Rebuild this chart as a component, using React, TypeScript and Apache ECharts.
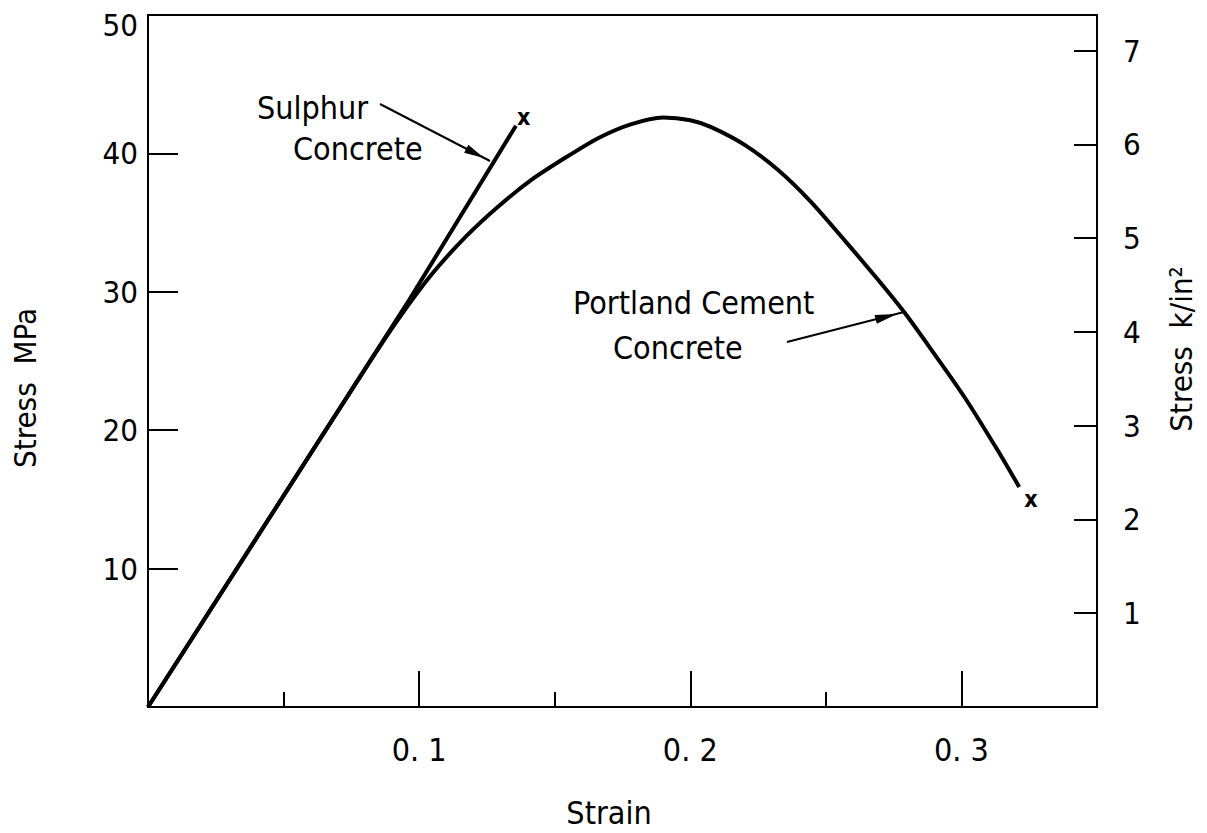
import React, { useEffect, useRef } from "react";
import * as echarts from "echarts";

// ---- Data ----
const strainTicks = [0.1, 0.2, 0.3];
const mpaTicks = [10, 20, 30, 40, 50];
const ksiTicks = [1, 2, 3, 4, 5, 6, 7];

const sulphurStrain = [0, 0.0963, 0.1357];
const sulphurStress = [0, 29.4, 42.0];

const portlandStrain = [
  0, 0.04, 0.08, 0.0926, 0.1048, 0.1173, 0.1294, 0.1415, 0.154,
  0.166, 0.178, 0.19, 0.2, 0.2077, 0.2202, 0.2324, 0.2445, 0.257, 0.2691,
  0.279, 0.2886, 0.3011, 0.3132, 0.3213,
];
const portlandStress = [
  0, 12.2, 24.4, 28.1, 31.3, 34.0, 36.2, 38.1, 39.7, 41.1, 42.1,
  42.6, 42.4, 41.9, 40.6, 38.8, 36.5, 33.7, 30.9, 28.5, 25.9, 22.4, 18.6, 15.9,
];

const FONT = "'DejaVu Sans Condensed', 'DejaVu Sans', sans-serif";

function arrowHead(
  tipX: number,
  tipY: number,
  fromX: number,
  fromY: number,
  len: number,
  half: number
) {
  const dx = tipX - fromX;
  const dy = tipY - fromY;
  const d = Math.sqrt(dx * dx + dy * dy);
  const ux = dx / d;
  const uy = dy / d;
  const bx = tipX - ux * len;
  const by = tipY - uy * len;
  return {
    type: "polygon",
    shape: {
      points: [
        [tipX, tipY],
        [bx - uy * half, by + ux * half],
        [bx + uy * half, by - ux * half],
      ],
    },
    style: { fill: "#000" },
    silent: true,
  };
}

function near(v: number, list: number[]) {
  return list.some((t) => Math.abs(t - v) < 1e-6);
}

export default function App() {
  const ref = useRef<HTMLDivElement>(null);

  useEffect(() => {
    document.body.style.margin = "0";
    if (!ref.current) return;
    const chart = echarts.init(ref.current, undefined, { renderer: "svg" });

    const textStyle = (extra: any) => ({
      fontFamily: FONT,
      fill: "#000",
      ...extra,
    });

    const option: any = {
      animation: false,
      backgroundColor: "#fff",
      grid: {
        left: 148,
        top: 15,
        width: 949,
        height: 692,
        show: true,
        borderColor: "#000",
        borderWidth: 2,
        backgroundColor: "transparent",
      },
      xAxis: {
        type: "value",
        min: 0,
        max: 0.35,
        interval: 0.1,
        axisLine: { show: true, lineStyle: { color: "#000", width: 2 } },
        axisTick: {
          show: true,
          inside: true,
          length: 36,
          lineStyle: { color: "#000", width: 2 },
        },
        minorTick: {
          show: true,
          splitNumber: 2,
          length: 15,
          lineStyle: { color: "#000", width: 2 },
        },
        splitLine: { show: false },
        minorSplitLine: { show: false },
        axisLabel: {
          showMinLabel: false,
          showMaxLabel: false,
          margin: 27,
          fontSize: 32,
          color: "#000",
          fontFamily: FONT,
          formatter: (v: number) =>
            near(v, strainTicks) ? v.toFixed(1).replace(".", ". ") : "",
        },
      },
      yAxis: [
        {
          type: "value",
          position: "left",
          min: 0,
          max: 50,
          interval: 10,
          axisLine: { show: true, lineStyle: { color: "#000", width: 2 } },
          axisTick: {
            show: true,
            inside: true,
            length: 30,
            lineStyle: { color: "#000", width: 2 },
          },
          splitLine: { show: false },
          axisLabel: {
            showMinLabel: false,
            margin: 10,
            fontSize: 31,
            color: "#000",
            fontFamily: FONT,
            formatter: (v: number) =>
              near(v, mpaTicks) ? (v === 50 ? "{top|50}" : String(v)) : "",
            rich: {
              top: {
                fontSize: 31,
                fontFamily: FONT,
                color: "#000",
                padding: [20, 0, 0, 0],
              },
            },
          },
        },
        {
          type: "value",
          position: "right",
          min: 0,
          max: 7.38,
          interval: 1,
          axisLine: { show: true, lineStyle: { color: "#000", width: 2 } },
          axisTick: {
            show: true,
            inside: true,
            length: 23,
            lineStyle: { color: "#000", width: 2 },
          },
          splitLine: { show: false },
          axisLabel: {
            showMinLabel: false,
            showMaxLabel: false,
            margin: 26,
            fontSize: 31,
            color: "#000",
            fontFamily: FONT,
            formatter: (v: number) => (near(v, ksiTicks) ? String(v) : ""),
          },
        },
      ],
      series: [
        {
          name: "Sulphur Concrete",
          type: "line",
          yAxisIndex: 0,
          showSymbol: false,
          data: sulphurStrain.map((x, i) => [x, sulphurStress[i]]),
          lineStyle: { color: "#000", width: 4 },
          itemStyle: { color: "#000" },
          endLabel: {
            show: true,
            formatter: "x",
            offset: [-7, -9],
            fontSize: 23,
            fontWeight: "bold",
            color: "#000",
            fontFamily: FONT,
          },
          z: 3,
        },
        {
          name: "Portland Cement Concrete",
          type: "line",
          yAxisIndex: 0,
          showSymbol: false,
          smooth: 0.25,
          data: portlandStrain.map((x, i) => [x, portlandStress[i]]),
          lineStyle: { color: "#000", width: 4 },
          itemStyle: { color: "#000" },
          endLabel: {
            show: true,
            formatter: "x",
            offset: [-3, 12],
            fontSize: 23,
            fontWeight: "bold",
            color: "#000",
            fontFamily: FONT,
          },
          z: 3,
        },
      ],
      graphic: [
        // axis titles
        {
          type: "text",
          x: 25,
          y: 388,
          rotation: Math.PI / 2,
          style: textStyle({
            text: "Stress  MPa",
            fontSize: 31,
            align: "center",
            verticalAlign: "middle",
          }),
        },
        {
          type: "text",
          x: 1181,
          y: 349,
          rotation: Math.PI / 2,
          style: textStyle({
            text: "Stress  k/in²",
            fontSize: 31,
            align: "center",
            verticalAlign: "middle",
          }),
        },
        {
          type: "text",
          x: 609,
          y: 813,
          style: textStyle({
            text: "Strain",
            fontSize: 32,
            align: "center",
            verticalAlign: "middle",
          }),
        },
        // annotations
        {
          type: "text",
          x: 257,
          y: 108,
          style: textStyle({
            text: "Sulphur",
            fontSize: 32,
            align: "left",
            verticalAlign: "middle",
          }),
        },
        {
          type: "text",
          x: 293,
          y: 149,
          style: textStyle({
            text: "Concrete",
            fontSize: 32,
            align: "left",
            verticalAlign: "middle",
          }),
        },
        {
          type: "text",
          x: 573,
          y: 303,
          style: textStyle({
            text: "Portland Cement",
            fontSize: 32,
            align: "left",
            verticalAlign: "middle",
          }),
        },
        {
          type: "text",
          x: 613,
          y: 348,
          style: textStyle({
            text: "Concrete",
            fontSize: 32,
            align: "left",
            verticalAlign: "middle",
          }),
        },
        {
          type: "line",
          shape: { x1: 380, y1: 104, x2: 490, y2: 161 },
          style: { stroke: "#000", lineWidth: 2 },
          silent: true,
        },
        arrowHead(484, 158, 380, 104, 20, 4.5),
        {
          type: "line",
          shape: { x1: 787, y1: 342, x2: 904, y2: 312 },
          style: { stroke: "#000", lineWidth: 2 },
          silent: true,
        },
        arrowHead(897, 314, 787, 342, 22, 4.5),
      ],
    };

    chart.setOption(option);
    return () => {
      chart.dispose();
    };
  }, []);

  return <div ref={ref} style={{ width: 1207, height: 833 }} />;
}
